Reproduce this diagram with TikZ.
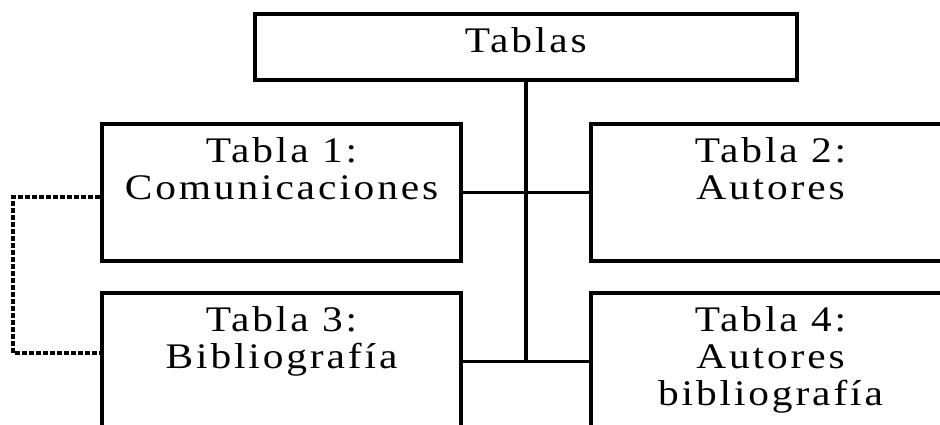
\documentclass[tikz,border=0pt]{standalone}
\usepackage{fontspec}
\setmainfont{Liberation Serif}[FakeStretch=1.15,LetterSpace=8]
\tikzset{
  tabla/.style={draw,line width=4pt,anchor=north west,minimum width=359pt,minimum height=137pt,inner sep=0pt},
  titulo/.style={anchor=north,inner sep=0pt,yshift=-15pt,align=center,font=\fontsize{36}{37}\selectfont},
  rama/.style={line width=3pt},
  enlace/.style={line width=4pt,dash pattern=on 5pt off 2pt}
}
\begin{document}
\begin{tikzpicture}[x=1pt,y=-1pt]
\useasboundingbox (0,0) rectangle (940,424);
\node[tabla,line width=3.5pt,minimum width=542pt,minimum height=66pt,label={[titulo]north:Tablas}] (tablas) at (253,12) {};
\node[tabla,label={[titulo]north:Tabla 1:\\Comunicaciones}] (t1) at (100,122) {};
\node[tabla,label={[titulo]north:Tabla 2:\\Autores}] (t2) at (589,122) {};
\node[tabla,label={[titulo]north:Tabla 3:\\Bibliograf\'ia}] (t3) at (100,291) {};
\node[tabla,label={[titulo]north:Tabla 4:\\Autores\\bibliograf\'ia}] (t4) at (589,291) {};
\draw[line width=4pt] (tablas.south) -- (tablas.south |- t3.east);
\draw[rama] (t1.east) -- (t2.west);
\draw[rama] (t3.east) -- (t4.west);
\coordinate (d1) at (13,197);
\coordinate (d3) at (13,353);
\draw[enlace] (t1.west |- d1) -- (d1) -- (d3) -- (t3.west |- d3);
\end{tikzpicture}
\end{document}
